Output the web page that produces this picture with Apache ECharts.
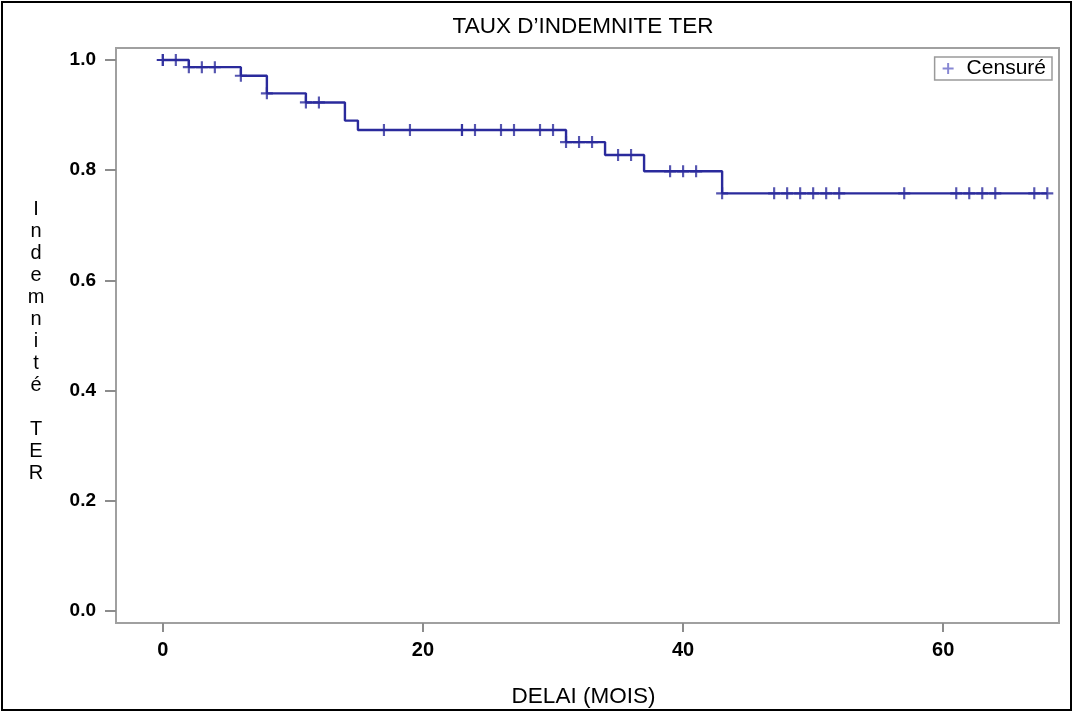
<!DOCTYPE html>
<html>
<head>
<meta charset="utf-8">
<script src="https://cdn.jsdelivr.net/npm/echarts@6/dist/echarts.min.js"></script>
<style>
html,body{margin:0;padding:0;background:#fff;}
#chart{width:1074px;height:713px;}
</style>
</head>
<body>
<div id="chart"></div>
<script>
// Kaplan-Meier step values (time in months, survival estimate)
const eventTimes = [0, 2, 6, 8, 11, 14, 15, 31, 34, 37, 43];
const survival   = [1.0, 0.987, 0.9715, 0.9395, 0.923, 0.890, 0.873, 0.851, 0.8276, 0.798, 0.758];
const lastTime = 68;
// Censored observations (months)
const censorTimes = [0, 0, 1, 2, 3, 4, 6, 8, 11, 12, 17, 19, 23, 23, 24, 26, 27, 29, 30, 31, 32, 33,
                     35, 36, 39, 40, 41, 43, 47, 48, 49, 50, 51, 52, 57, 61, 62, 63, 64, 67, 68];
const xTicks = [0, 20, 40, 60];
const yTicks = [0, 0.2, 0.4, 0.6, 0.8, 1.0];
const titleText = 'TAUX D\u2019INDEMNITE TER';
const xName = 'DELAI (MOIS)';
const yName = 'Indemnité TER';
const legendName = 'Censuré';

function survAt(t) {
  let s = survival[0];
  for (let i = 0; i < eventTimes.length; i++) if (eventTimes[i] <= t) s = survival[i];
  return s;
}
const stepData = eventTimes.map((t, i) => [t, survival[i]]);
stepData.push([lastTime, survival[survival.length - 1]]);
const censorData = censorTimes.map(t => [t, survAt(t)]);

const lineColor = '#2a2a9c';
const plusPath = 'path://M41,0H59V41H100V59H59V100H41V59H0V41H41Z';
const font = 'Liberation Sans, Arial, sans-serif';

const yLabelStacked = yName.split('').join('\n');

const chart = echarts.init(document.getElementById('chart'), null, {renderer: 'canvas'});
chart.setOption({
  backgroundColor: '#ffffff',
  animation: false,
  textStyle: {fontFamily: font},
  title: {
    text: titleText,
    left: 583, top: 15, textAlign: 'center', padding: 0,
    textStyle: {fontSize: 22.5, fontWeight: 'normal', color: '#000', fontFamily: font}
  },
  legend: {
    data: [{name: legendName, itemStyle: {color: '#6a6ac8'}}],
    right: 22, top: 57,
    borderColor: '#9a9a9a', borderWidth: 1.5, padding: [1, 6, 1, 8],
    itemWidth: 11, itemHeight: 11, itemGap: 6,
    textStyle: {fontSize: 21, color: '#000', fontFamily: font, padding: [0, 0, 0, 8]}
  },
  grid: {
    left: 116, right: 15, top: 48, bottom: 90,
    show: true, borderColor: '#a0a0a0', borderWidth: 2, backgroundColor: '#fff'
  },
  xAxis: {
    type: 'value', min: -3.6, max: 68.9,
    name: xName, nameLocation: 'middle', nameGap: 62,
    nameTextStyle: {fontSize: 22.5, color: '#000', fontFamily: font, padding: [0, 8, 0, 0]},
    axisLine: {show: false, onZero: false},
    splitLine: {show: false},
    axisTick: {show: true, customValues: xTicks, length: 9, lineStyle: {color: '#8c8c8c', width: 2}},
    axisLabel: {customValues: xTicks, fontSize: 20, fontWeight: 'bold', color: '#000', margin: 17, fontFamily: font}
  },
  yAxis: {
    type: 'value', min: -0.0218, max: 1.0218,
    axisLine: {show: false, onZero: false},
    splitLine: {show: false},
    axisTick: {show: true, customValues: yTicks, length: 11, lineStyle: {color: '#8c8c8c', width: 2}},
    axisLabel: {customValues: yTicks, formatter: v => v.toFixed(1), fontSize: 19, fontWeight: 'bold', color: '#000', margin: 20, fontFamily: font}
  },
  graphic: [
    {type: 'rect', shape: {x: 2, y: 2, width: 1069, height: 708}, style: {fill: 'none', stroke: '#000', lineWidth: 2}, silent: true},
    {type: 'text', x: 36, y: 341, style: {text: yLabelStacked, fontSize: 20, lineHeight: 22, fill: '#000', align: 'center', verticalAlign: 'middle', font: '20px ' + font}}
  ],
  series: [
    {
      name: 'KM', type: 'line', step: 'end', data: stepData,
      showSymbol: false, lineStyle: {color: lineColor, width: 2.4}, z: 2
    },
    {
      name: legendName, type: 'scatter', data: censorData,
      symbol: plusPath, symbolSize: 12,
      itemStyle: {color: lineColor}, z: 3
    }
  ]
});
</script>
</body>
</html>
